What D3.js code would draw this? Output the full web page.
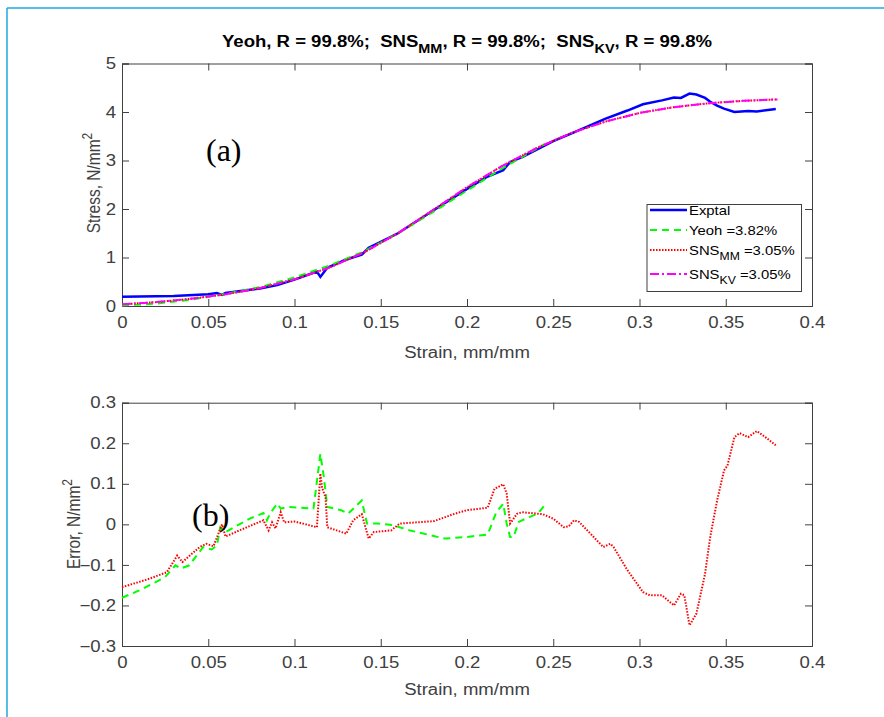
<!DOCTYPE html>
<html>
<head>
<meta charset="utf-8">
<script src="https://cdn.jsdelivr.net/npm/d3@7/dist/d3.min.js"></script>
<style>
  body { margin: 0; background: #fff; }
  svg { display: block; font-family: "Liberation Sans", Arial, sans-serif; }
</style>
</head>
<body>
<svg id="chart" width="884" height="717"></svg>
<script>
// experimental stress-strain
const expStrain = [0, 0.03, 0.05, 0.055, 0.058, 0.06, 0.08, 0.09, 0.1, 0.113, 0.115, 0.119, 0.13, 0.139, 0.143, 0.16, 0.18, 0.2, 0.212, 0.221, 0.225, 0.232, 0.25, 0.262, 0.28, 0.293, 0.302, 0.313, 0.32, 0.324, 0.329, 0.333, 0.338, 0.341, 0.345, 0.349, 0.355, 0.363, 0.368, 0.379];
const expStress = [0.19, 0.205, 0.24, 0.267, 0.23, 0.27, 0.36, 0.43, 0.543, 0.71, 0.6, 0.787, 0.96, 1.06, 1.2, 1.5, 1.96, 2.415, 2.67, 2.8, 2.97, 3.07, 3.4, 3.58, 3.86, 4.03, 4.16, 4.24, 4.3, 4.29, 4.38, 4.36, 4.29, 4.21, 4.13, 4.07, 4.0, 4.02, 4.01, 4.06];

// model fits
const yeohStrain = [0, 0.02, 0.04, 0.06, 0.08, 0.1, 0.12, 0.14, 0.16, 0.18, 0.2, 0.22, 0.245];
const yeohStress = [0.01, 0.05, 0.13, 0.25, 0.39, 0.59, 0.83, 1.12, 1.5, 1.93, 2.38, 2.83, 3.34];
const snsStrain = [0, 0.02, 0.04, 0.06, 0.08, 0.1, 0.12, 0.14, 0.16, 0.18, 0.2, 0.22, 0.24, 0.26, 0.28, 0.3, 0.32, 0.34, 0.36, 0.38];
const snsMMStress = [0.035, 0.08, 0.15, 0.24, 0.37, 0.55, 0.79, 1.1, 1.5, 1.97, 2.45, 2.88, 3.25, 3.56, 3.8, 3.98, 4.1, 4.18, 4.23, 4.26];
const snsKVStress = [0.035, 0.08, 0.15, 0.24, 0.37, 0.55, 0.79, 1.1, 1.5, 1.97, 2.45, 2.88, 3.25, 3.56, 3.8, 3.98, 4.1, 4.18, 4.23, 4.26];

// errors
const yeohErrStrain = [0, 0.01, 0.025, 0.031, 0.034, 0.039, 0.047, 0.052, 0.055, 0.057, 0.06, 0.074, 0.082, 0.084, 0.086, 0.09, 0.092, 0.096, 0.111, 0.115, 0.117, 0.119, 0.127, 0.131, 0.139, 0.142, 0.148, 0.157, 0.167, 0.187, 0.2, 0.212, 0.217, 0.221, 0.223, 0.225, 0.227, 0.23, 0.236, 0.241, 0.245];
const yeohErr = [-0.181, -0.163, -0.13, -0.101, -0.109, -0.101, -0.056, -0.062, -0.052, -0.007, -0.019, 0.014, 0.028, 0.01, 0.028, 0.051, 0.039, 0.043, 0.039, 0.174, 0.117, 0.043, 0.035, 0.026, 0.059, 0.002, 0.002, -0.002, -0.015, -0.035, -0.031, -0.025, 0.03, 0.051, 0.002, -0.031, -0.031, 0.006, 0.018, 0.026, 0.047];
const snsErrStrain = [0, 0.016, 0.026, 0.032, 0.035, 0.045, 0.049, 0.053, 0.058, 0.06, 0.068, 0.082, 0.085, 0.087, 0.089, 0.092, 0.094, 0.1, 0.113, 0.115, 0.116, 0.118, 0.119, 0.13, 0.134, 0.139, 0.143, 0.146, 0.156, 0.161, 0.181, 0.192, 0.2, 0.212, 0.216, 0.218, 0.221, 0.223, 0.225, 0.229, 0.232, 0.244, 0.25, 0.256, 0.259, 0.262, 0.265, 0.279, 0.283, 0.285, 0.293, 0.302, 0.306, 0.313, 0.32, 0.324, 0.326, 0.329, 0.333, 0.338, 0.341, 0.345, 0.349, 0.351, 0.355, 0.358, 0.363, 0.368, 0.373, 0.379];
const snsErr = [-0.155, -0.134, -0.118, -0.077, -0.093, -0.056, -0.048, -0.054, 0.0, -0.03, -0.015, 0.01, -0.015, 0.005, -0.01, 0.03, 0.005, 0.007, -0.007, 0.125, 0.09, 0.067, -0.007, -0.023, 0.01, 0.025, -0.035, -0.019, -0.015, 0.002, 0.008, 0.025, 0.035, 0.041, 0.088, 0.092, 0.099, 0.076, 0.002, 0.026, 0.03, 0.025, 0.014, -0.007, -0.005, 0.01, 0.006, -0.056, -0.048, -0.056, -0.113, -0.167, -0.175, -0.175, -0.2, -0.171, -0.175, -0.249, -0.22, -0.122, -0.031, 0.059, 0.133, 0.145, 0.215, 0.225, 0.215, 0.23, 0.215, 0.195];

const xTicks = [0, 0.05, 0.1, 0.15, 0.2, 0.25, 0.3, 0.35, 0.4];
const stressTicks = [0, 1, 2, 3, 4, 5];
const errTicks = [-0.3, -0.2, -0.1, 0, 0.1, 0.2, 0.3];

const svg = d3.select("#chart");
const axisColor = "#404040";
const left = 122, right = 812;
const sx = 1.16; // text in the source is a bit wider than tall
const nb = "\u00a0";

// page border
svg.append("line").attr("x1", 7).attr("x2", 884).attr("y1", 8).attr("y2", 8)
    .attr("stroke", "#1fa8e0").attr("stroke-width", 1.5);
svg.append("line").attr("x1", 7).attr("x2", 7).attr("y1", 8).attr("y2", 717)
    .attr("stroke", "#1fa8e0").attr("stroke-width", 1.5);

// text placed at (x,y), stretched horizontally
function wideText(x, y, extra) {
    return svg.append("text").attr("transform", `translate(${x},${y}) scale(${sx},1)` + (extra || ""));
}

function makePanel(top, bottom, yDomain, yTicks, yFmt) {
    const x = d3.scaleLinear().domain([0, 0.4]).range([left, right]);
    const y = d3.scaleLinear().domain(yDomain).range([bottom, top]);
    const g = svg.append("g");

    const tick = 7;
    g.append("g").attr("transform", `translate(0,${bottom})`)
        .call(d3.axisBottom(x).tickValues(xTicks).tickSize(-tick).tickPadding(11).tickFormat(d3.format("")));
    g.append("g").attr("transform", `translate(0,${top})`)
        .call(d3.axisTop(x).tickValues(xTicks).tickSize(-tick).tickFormat(""));
    g.append("g").attr("class", "yleft").attr("transform", `translate(${left},0)`)
        .call(d3.axisLeft(y).tickValues(yTicks).tickSize(-tick).tickPadding(6).tickFormat(yFmt));
    g.append("g").attr("transform", `translate(${right},0)`)
        .call(d3.axisRight(y).tickValues(yTicks).tickSize(-tick).tickFormat(""));

    g.selectAll(".domain").attr("stroke", axisColor).attr("stroke-width", 1);
    g.selectAll(".tick line").attr("stroke", axisColor).attr("stroke-width", 1);
    g.selectAll(".tick text")
        .attr("fill", axisColor)
        .attr("font-size", 16)
        .attr("font-family", "'Liberation Sans', Arial, sans-serif")
        .attr("transform", `scale(${sx},1)`)
        .attr("x", function() { return (+d3.select(this).attr("x") || 0) / sx; });
    return { x, y, g };
}

function drawLine(p, xs, ys, color, width, dash) {
    const pts = xs.map((d, i) => [d, ys[i]]);
    p.g.append("path").datum(pts)
        .attr("fill", "none")
        .attr("stroke", color)
        .attr("stroke-width", width)
        .attr("stroke-dasharray", dash)
        .attr("d", d3.line().x(d => p.x(d[0])).y(d => p.y(d[1])));
}

// ---- top panel (a)
const pa = makePanel(63.5, 306, [0, 5], stressTicks, d3.format(""));
drawLine(pa, expStrain, expStress, "#0000ff", 2.5, null);
drawLine(pa, yeohStrain, yeohStress, "#00ff00", 2, "7,5");
drawLine(pa, snsStrain, snsMMStress, "#ff0000", 2, "1.5,1.5");
drawLine(pa, snsStrain, snsKVStress, "#ff00ff", 2, "9,3,2,3");

// title
const title = wideText(467, 47).attr("text-anchor", "middle").attr("font-weight", "bold")
    .attr("font-size", 16).attr("fill", "#000");
title.append("tspan").text("Yeoh, R = 99.8%;" + nb + nb + "SNS");
title.append("tspan").attr("dy", 6).attr("font-size", 12.5).text("MM");
title.append("tspan").attr("dy", -6).text(", R = 99.8%;" + nb + nb + "SNS");
title.append("tspan").attr("dy", 6).attr("font-size", 12.5).text("KV");
title.append("tspan").attr("dy", -6).text(", R = 99.8%");

wideText(467, 358).attr("text-anchor", "middle")
    .attr("font-size", 16).attr("fill", axisColor).text("Strain, mm/mm");
const yla = wideText(100, 183, " rotate(-90)")
    .attr("text-anchor", "middle").attr("font-size", 15.5).attr("fill", axisColor);
yla.append("tspan").text("Stress, N/mm");
yla.append("tspan").attr("dy", -7).attr("font-size", 12).text("2");

svg.append("text").attr("x", 206).attr("y", 161).attr("font-family", "'Liberation Serif', 'Times New Roman', serif")
    .attr("font-size", 32).attr("fill", "#000").text("(a)");

// legend
const legend = svg.append("g");
legend.append("rect").attr("x", 647).attr("y", 204.5).attr("width", 154.5).attr("height", 87)
    .attr("fill", "#fff").attr("stroke", axisColor).attr("stroke-width", 1);
const legItems = [
    { name: "Exptal", sub: null, tail: "", color: "#0000ff", width: 2.5, dash: null, y: 210 },
    { name: "Yeoh =3.82%", sub: null, tail: "", color: "#00ff00", width: 2, dash: "7,5", y: 230 },
    { name: "SNS", sub: "MM", tail: nb + "=3.05%", color: "#ff0000", width: 2, dash: "1.5,1.5", y: 250 },
    { name: "SNS", sub: "KV", tail: " =3.05%", color: "#ff00ff", width: 2, dash: "9,3,2,3", y: 274 }
];
legItems.forEach(it => {
    legend.append("line").attr("x1", 650).attr("x2", 687).attr("y1", it.y).attr("y2", it.y)
        .attr("stroke", it.color).attr("stroke-width", it.width).attr("stroke-dasharray", it.dash);
    const t = legend.append("text").attr("transform", `translate(689,${it.y + 4.5}) scale(${sx},1)`)
        .attr("font-size", 12.8).attr("fill", "#000");
    t.append("tspan").text(it.name);
    if (it.sub) {
        t.append("tspan").attr("dy", 5).attr("font-size", 10.5).text(it.sub);
        t.append("tspan").attr("dy", -5).text(it.tail);
    }
});

// ---- bottom panel (b)
const pb = makePanel(402.7, 646, [-0.3, 0.3], errTicks, d => d === 0 ? "0" : d3.format(".1f")(d));
drawLine(pb, yeohErrStrain, yeohErr, "#00ff00", 2, "7,5");
drawLine(pb, snsErrStrain, snsErr, "#ff0000", 2, "1.5,1.5");

wideText(467, 695).attr("text-anchor", "middle")
    .attr("font-size", 16).attr("fill", axisColor).text("Strain, mm/mm");
const ylb = wideText(80, 524, " rotate(-90)")
    .attr("text-anchor", "middle").attr("font-size", 15.5).attr("fill", axisColor);
ylb.append("tspan").text("Error, N/mm");
ylb.append("tspan").attr("dy", -7).attr("font-size", 12).text("2");

svg.append("text").attr("x", 192).attr("y", 526).attr("font-family", "'Liberation Serif', 'Times New Roman', serif")
    .attr("font-size", 32).attr("fill", "#000").text("(b)");
</script>
</body>
</html>
